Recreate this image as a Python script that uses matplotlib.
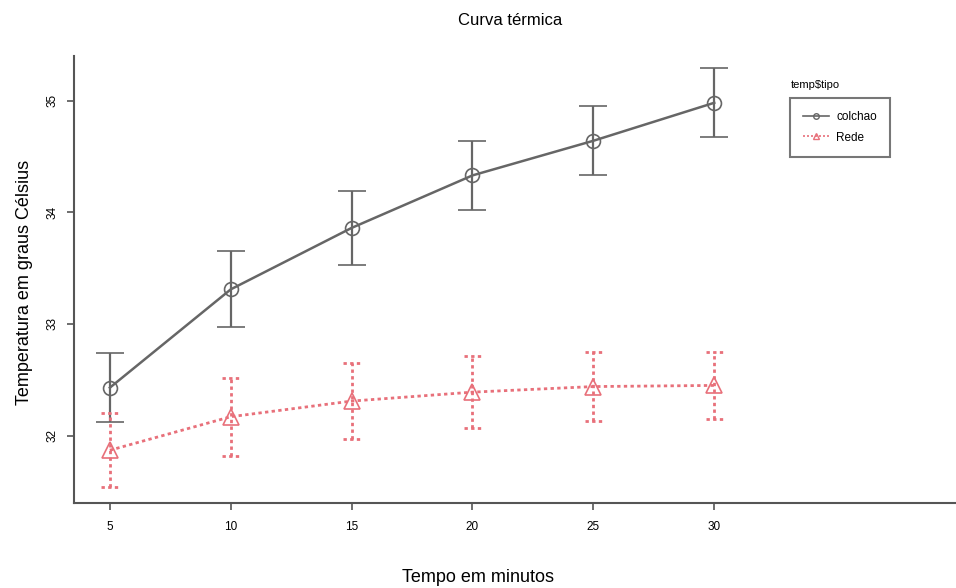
import numpy as np
import matplotlib.pyplot as plt
from matplotlib.lines import Line2D

plt.rcParams['font.family'] = ['Liberation Sans', 'DejaVu Sans']

# Temperatura média por tempo e tipo
tempo = [5, 10, 15, 20, 25, 30]
colchao = [32.43, 33.31, 33.86, 34.33, 34.64, 34.98]
colchao_err = [0.31, 0.34, 0.33, 0.31, 0.31, 0.31]
rede = [31.87, 32.17, 32.31, 32.39, 32.44, 32.45]
rede_err = [0.33, 0.35, 0.34, 0.32, 0.31, 0.30]

fig = plt.figure(figsize=(9.56, 5.88), dpi=100)
ax = fig.add_axes([0.077, 0.145, 0.923, 0.76])

gray = '#666666'
red = '#e8707a'
dots = (0, (1.2, 1.2))

ax.errorbar(tempo, colchao, yerr=colchao_err, color=gray, lw=1.8, marker='o',
            ms=10, mfc='none', mec=gray, mew=1.2, capsize=10, elinewidth=1.6,
            capthick=1.6)
ax.errorbar(tempo, rede, yerr=rede_err, color=red, lw=2, ls=dots,
            marker='^', ms=11, mfc='none', mec=red, mew=1.2, capsize=0,
            elinewidth=2)
for line in ax.containers[1].lines[2]:
    line.set_linestyle(dots)
# tampas pontilhadas
t = np.array(tempo)
r = np.array(rede)
re = np.array(rede_err)
ax.hlines(r + re, t - 0.35, t + 0.35, colors=red, lw=2, linestyles=dots)
ax.hlines(r - re, t - 0.35, t + 0.35, colors=red, lw=2, linestyles=dots)

ax.set_xlim(3.5, 40)
ax.set_ylim(31.4, 35.4)
ax.set_xticks(tempo)
ax.set_yticks([32, 33, 34, 35])
ax.tick_params(axis='x', labelsize=8.5, length=5, width=1.2, color='#555555', pad=8)
ax.tick_params(axis='y', labelsize=8.5, length=5, width=1.2, color='#555555', pad=6,
               labelrotation=90)
for lab in ax.get_yticklabels():
    lab.set_va('center')

for s in ['top', 'right']:
    ax.spines[s].set_visible(False)
for s in ['left', 'bottom']:
    ax.spines[s].set_linewidth(1.5)
    ax.spines[s].set_color('#555555')

fig.text(0.534, 0.965, 'Curva térmica', ha='center', va='center', fontsize=12)
fig.text(0.5, 0.018, 'Tempo em minutos', ha='center', va='center', fontsize=13)
fig.text(0.026, 0.52, 'Temperatura em graus Célsius', ha='center', va='center',
         rotation=90, fontsize=13)

handles = [
    Line2D([], [], color=gray, lw=1.2, marker='o', ms=4, mfc='none', mec=gray),
    Line2D([], [], color=red, lw=1.2, ls=dots, marker='^', ms=5, mfc='none', mec=red),
]
leg = ax.legend(handles, ['colchao', 'Rede'], loc='upper left',
                bbox_to_anchor=(0.812, 0.905), fontsize=8.5, frameon=True,
                fancybox=False, edgecolor='#555555', handlelength=2.2,
                borderpad=1.1, labelspacing=0.7, handletextpad=0.6,
                borderaxespad=0)
leg.get_frame().set_linewidth(1.5)
fig.text(0.827, 0.855, 'temp$tipo', ha='left', va='center', fontsize=8)

fig.savefig('out.png', dpi=100)
